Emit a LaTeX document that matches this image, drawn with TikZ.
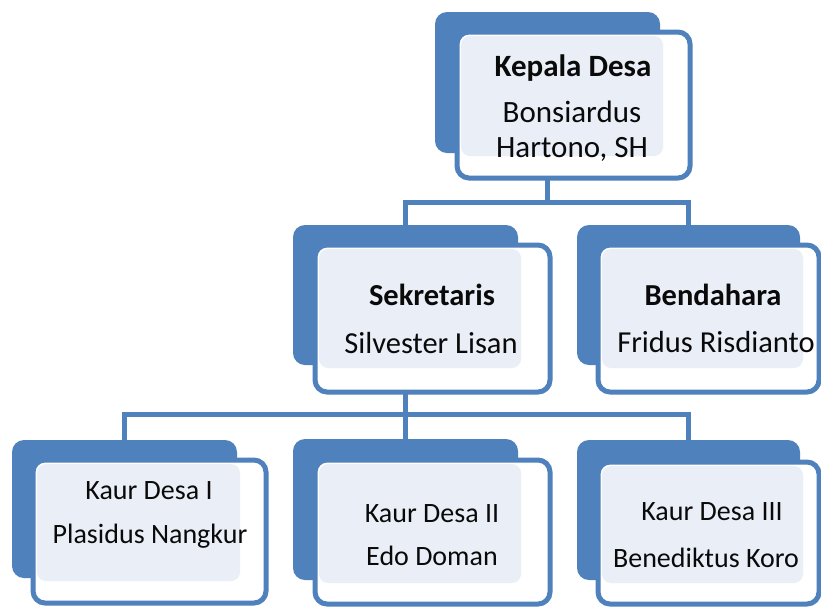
\documentclass[tikz,border=0pt]{standalone}
\usepackage{fontspec}
\setmainfont{Carlito}
\usetikzlibrary{fit}
\definecolor{ablue}{HTML}{4F81BD}
\definecolor{alight}{HTML}{EAEFF7}
\definecolor{atext}{HTML}{0A0A0A}
\pgfdeclarelayer{bg}
\pgfdeclarelayer{lines}
\pgfsetlayers{bg,lines,main}
\tikzset{
  backbox/.style={fill=ablue, rounded corners=12pt, inner sep=0pt},
  frontbox/.style={fill=white, draw=ablue, line width=5pt, rounded corners=12pt, inner sep=0pt},
  lightbox/.style={fill=alight, rounded corners=9pt, inner sep=0pt},
  conn/.style={draw=ablue, line width=5pt},
  lbl/.style={text=atext, inner sep=0pt, anchor=base},
  ftop/.style={font=\fontsize{31}{35}\selectfont},
  fmid/.style={font=\fontsize{30.5}{35}\selectfont},
  flow/.style={font=\fontsize{28}{33}\selectfont},
}
\newcommand\orgunit[9]{%
  \node[backbox, fit={(#2,#3) (#4,#5)}] (#1b) {};
  \node[frontbox, fit={(#6,#7) (#8,#9)}] (#1f) {};
  \node[lightbox, fit={(#6+4,#7+4) (#4+3,#5+3)}] (#1l) {};
}
\begin{document}
\begin{tikzpicture}[x=1pt,y=-1pt]
\begin{pgfonlayer}{bg}
  \fill[white] (0,0) rectangle (821,606);
\end{pgfonlayer}
\clip (0,0) rectangle (821,606);
\useasboundingbox (0,0) rectangle (821,606);

% units
\orgunit{kd}{435}{12}{660}{153}{457}{32}{690}{178}
\orgunit{sek}{293}{225}{518}{365}{315}{245}{550}{392}
\orgunit{ben}{577}{225}{800}{365}{598}{245}{819}{392}
\orgunit{ka}{12}{440}{237}{578}{33}{460}{266}{603}
\orgunit{kb}{293}{439}{518}{580}{315}{460}{550}{604}
\orgunit{kc}{577}{440}{800}{580}{598}{462}{819}{604}

% texts
\node[lbl, ftop] (kd1) at (573,76) {\textbf{Kepala Desa}};
\node[lbl, ftop] (kd2) at (572,122) {Bonsiardus};
\node[lbl, ftop] (kd3) at (572,157) {Hartono, SH};

\node[lbl, fmid] (sek1) at (432,305) {\textbf{Sekretaris}};
\node[lbl, fmid] (sek2) at (431,353) {Silvester Lisan};

\node[lbl, fmid] (ben1) at (713,305) {\textbf{Bendahara}};
\node[lbl, fmid] (ben2) at (716,352) {Fridus Risdianto};

\node[lbl, flow] (ka1) at (149,499) {Kaur Desa I};
\node[lbl, flow] (ka2) at (150,543) {Plasidus Nangkur};

\node[lbl, flow] (kb1) at (432,522) {Kaur Desa II};
\node[lbl, flow] (kb2) at (432,565) {Edo Doman};

\node[lbl, flow] (kc1) at (712,520) {Kaur Desa III};
\node[lbl, flow] (kc2) at (706,567) {Benediktus Koro};

% connectors
\coordinate (r1) at (0,202);
\coordinate (r2) at (0,414);
\begin{pgfonlayer}{lines}
  \draw[conn] (kdb.south) -- (kdb.south |- r1);
  \draw[conn] (sekb.north) -- (sekb.north |- r1) -- (benb.north |- r1) -- (benb.north);
  \draw[conn] (sekb.south) -- (kbb.north);
  \draw[conn] (kab.north) -- (kab.north |- r2) -- (kcb.north |- r2) -- (kcb.north);
\end{pgfonlayer}
\end{tikzpicture}
\end{document}
